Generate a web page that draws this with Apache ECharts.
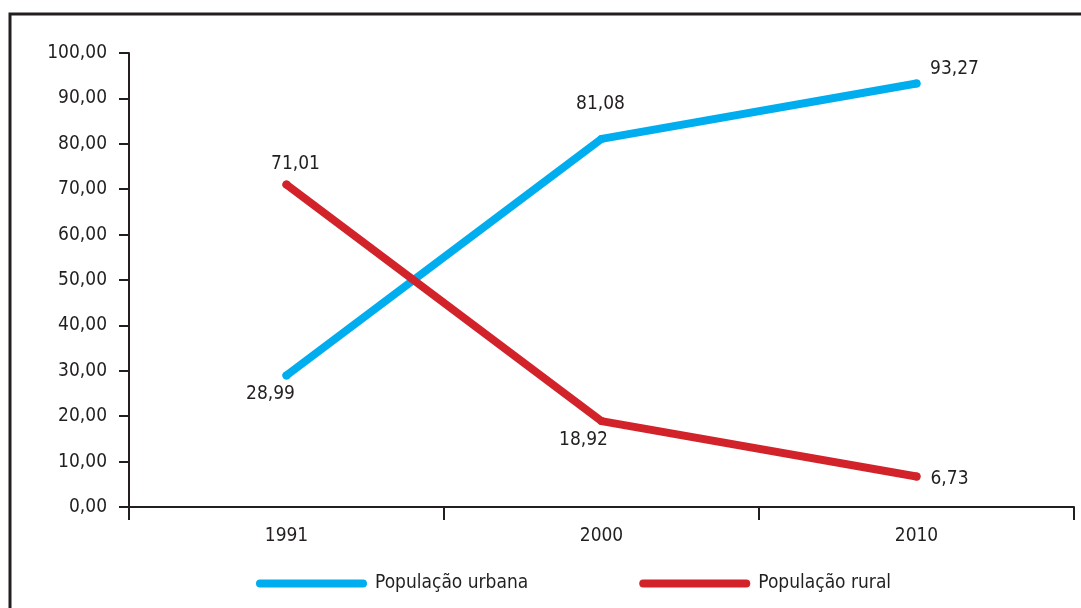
<!DOCTYPE html>
<html>
<head>
<meta charset="utf-8">
<script src="https://cdn.jsdelivr.net/npm/echarts@6/dist/echarts.min.js"></script>
<style>
html,body{margin:0;padding:0;background:#fff;}
#chart{width:1081px;height:608px;}
</style>
</head>
<body>
<div id="chart"></div>
<script>
const categories = ['1991', '2000', '2010'];
const urbana = [28.99, 81.08, 93.27];
const rural = [71.01, 18.92, 6.73];
const seriesNames = ['População urbana', 'População rural'];
const urbanaOffsets = [[-16, 19], [-1, -35], [38, -14]];
const ruralOffsets = [[9, -21], [-18, 19], [33, 3]];

const FONT = '"DejaVu Sans Condensed", "Liberation Sans Narrow", sans-serif';
const FS = 19;
const TXT = '#231F20';
const BLUE = '#00AEEF';
const RED = '#D2232A';

function fmt(v) { return v.toFixed(2).replace('.', ','); }
function mkData(vals, offs) {
  return vals.map((v, i) => ({
    value: v,
    label: { offset: offs[i] }
  }));
}

const chart = echarts.init(document.getElementById('chart'), null, { renderer: 'canvas' });
const legendIcon = 'path://M4,0H107A4,4,0,0,1,107,8H4A4,4,0,0,1,4,0Z';
chart.setOption({
  animation: false,
  backgroundColor: '#fff',
  graphic: [{
    type: 'rect',
    shape: { x: 10, y: 14, width: 1200, height: 800 },
    style: { fill: 'none', stroke: TXT, lineWidth: 3 },
    silent: true
  }],
  grid: { left: 129, right: 7, top: 53, bottom: 101, containLabel: false },
  legend: {
    left: 251,
    top: 569,
    itemWidth: 111,
    itemHeight: 8,
    itemGap: 111,
    icon: legendIcon,
    textStyle: { fontFamily: FONT, fontSize: FS, color: TXT, padding: [0, 0, 0, 3] },
    data: seriesNames
  },
  xAxis: {
    type: 'category',
    data: categories,
    boundaryGap: true,
    axisLine: { lineStyle: { color: TXT, width: 2 } },
    axisTick: { show: true, length: 13, lineStyle: { color: TXT, width: 2 } },
    axisLabel: { fontFamily: FONT, fontSize: FS, color: TXT, margin: 20 },
    splitLine: { show: false }
  },
  yAxis: {
    type: 'value',
    min: 0, max: 100, interval: 10,
    axisLine: { show: true, lineStyle: { color: TXT, width: 2 } },
    axisTick: { show: true, length: 10, lineStyle: { color: TXT, width: 2 } },
    axisLabel: { fontFamily: FONT, fontSize: FS, color: TXT, margin: 22, formatter: v => fmt(v) },
    splitLine: { show: false }
  },
  series: [
    {
      name: seriesNames[0],
      type: 'line',
      data: mkData(urbana, urbanaOffsets),
      symbol: 'circle', symbolSize: 8,
      itemStyle: { color: BLUE },
      lineStyle: { color: BLUE, width: 8, cap: 'round', join: 'round' },
      label: { show: true, position: 'inside', fontFamily: FONT, fontSize: FS, color: TXT, formatter: p => fmt(p.value) }
    },
    {
      name: seriesNames[1],
      type: 'line',
      data: mkData(rural, ruralOffsets),
      symbol: 'circle', symbolSize: 8,
      itemStyle: { color: RED },
      lineStyle: { color: RED, width: 8, cap: 'round', join: 'round' },
      label: { show: true, position: 'inside', fontFamily: FONT, fontSize: FS, color: TXT, formatter: p => fmt(p.value) }
    }
  ]
});
</script>
</body>
</html>
